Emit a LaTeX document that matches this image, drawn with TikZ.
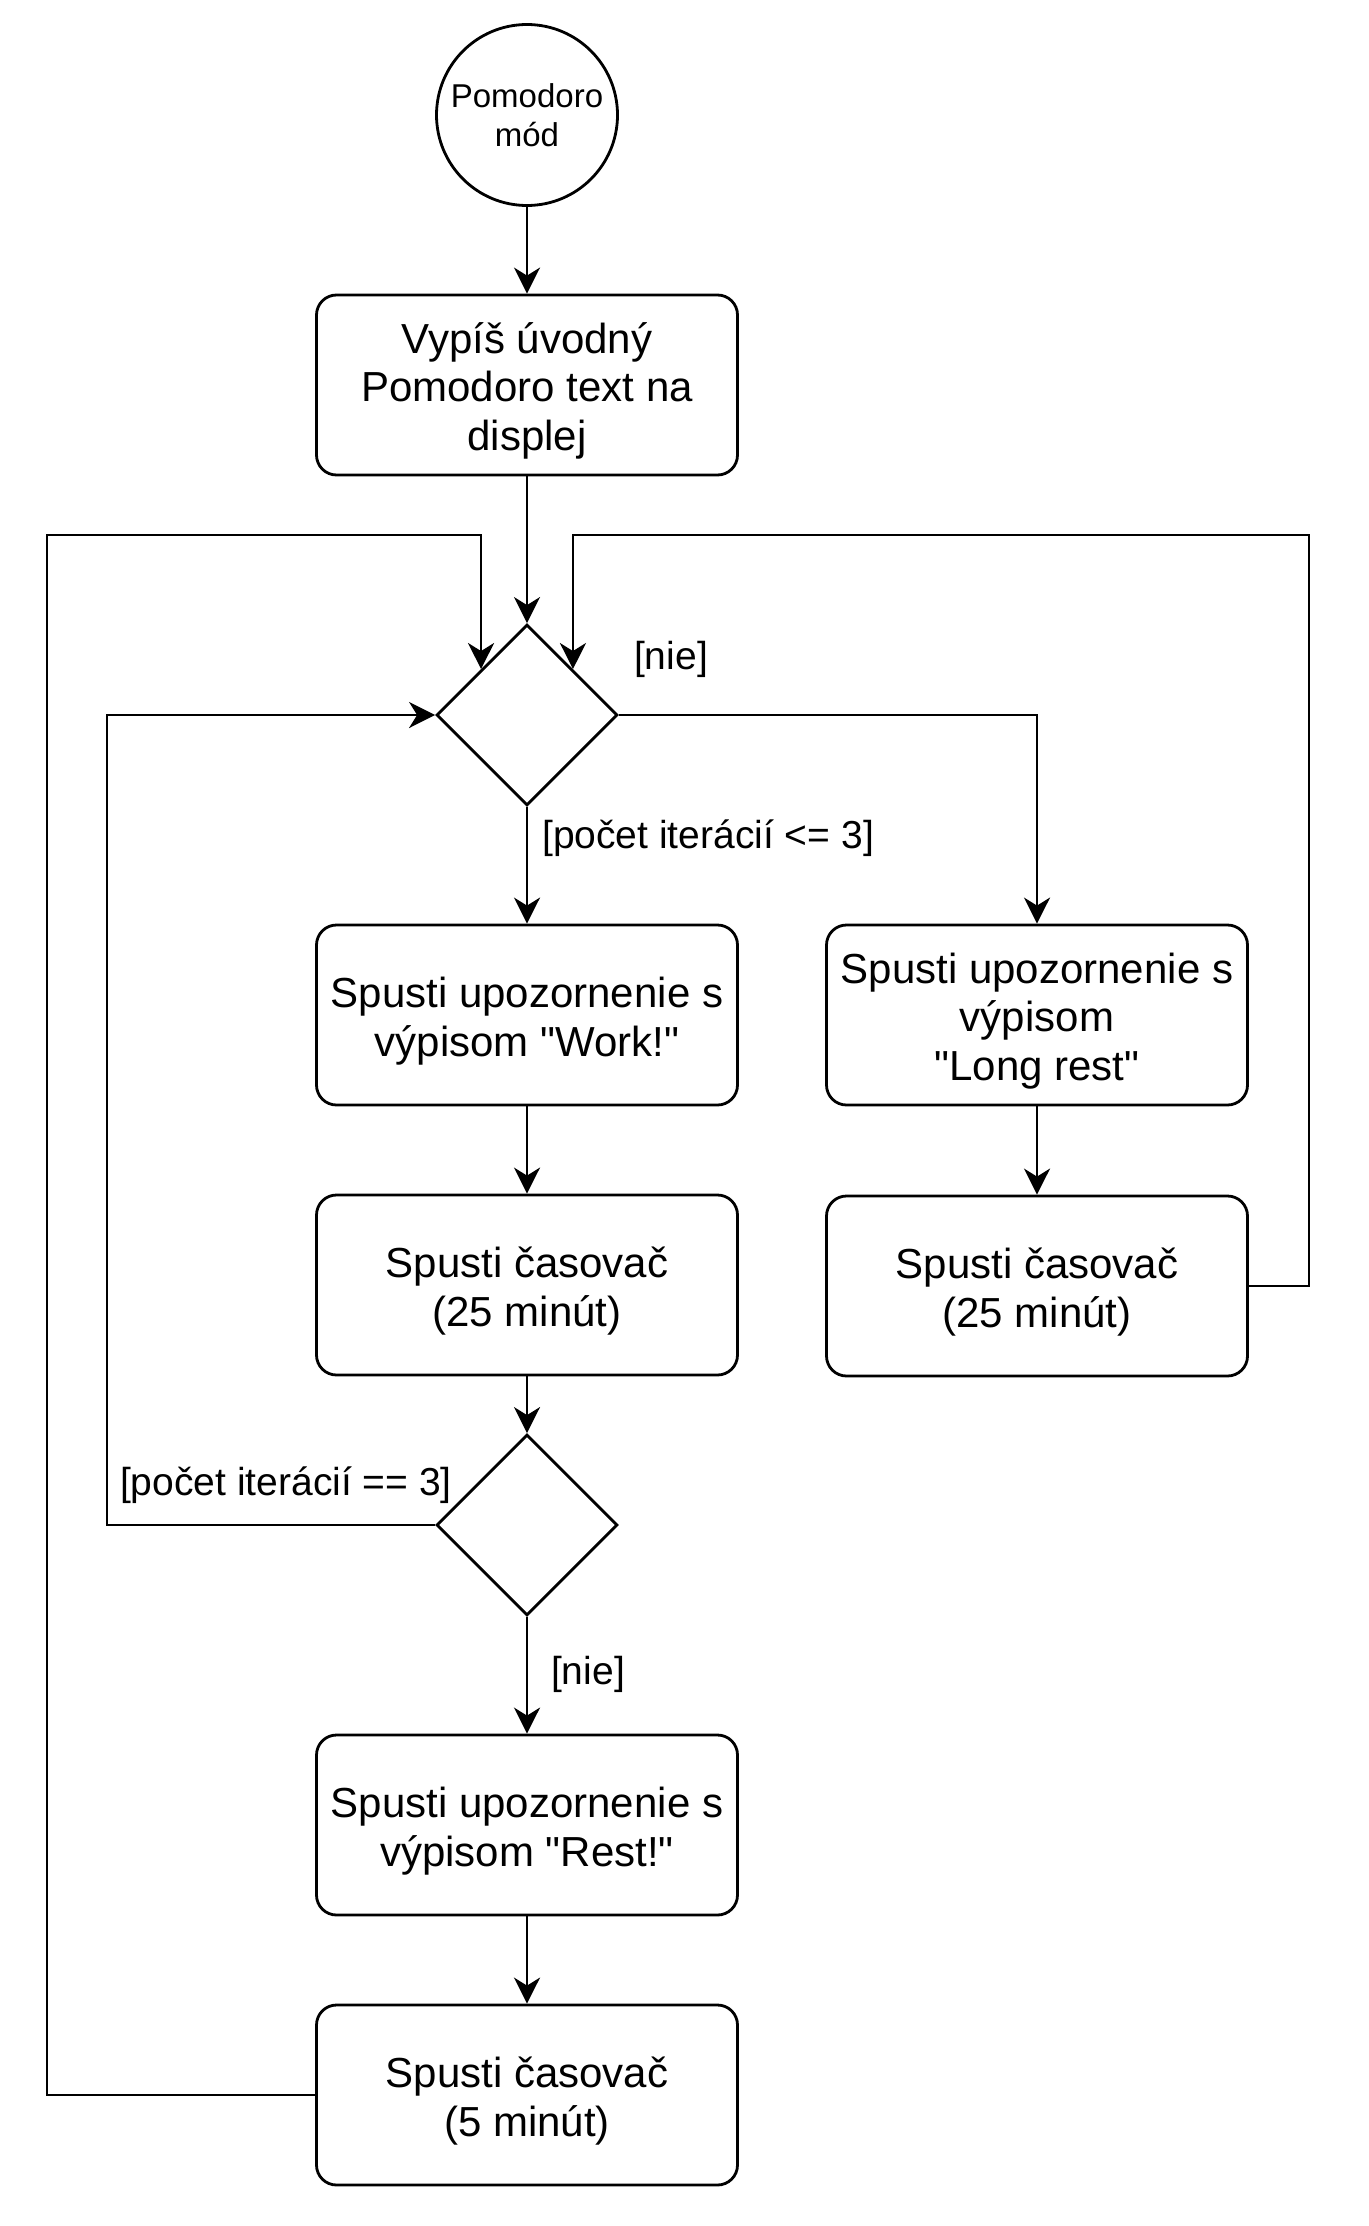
\documentclass[tikz,border=0pt]{standalone}
\usepackage{fontspec}
\setmainfont{Liberation Sans}[Ligatures=TeXOff]
\usetikzlibrary{arrows.meta,shapes.geometric}
\newcommand{\mytopstrut}{\rule{0pt}{42.5pt}}
\newcommand{\mybotstrut}{\rule[-6pt]{0pt}{6pt}}
\begin{document}
\begin{tikzpicture}[x=1pt,y=-1pt,
  lw/.style={line width=2.8pt},
  box/.style={draw, lw, rounded corners=20pt, minimum width=421pt, minimum height=180pt,
    align=center, inner sep=0pt, font=\fontsize{42pt}{48.5pt}\selectfont},
  dec/.style={draw, lw, diamond, minimum width=181pt, minimum height=181pt, inner sep=0pt},
  startnode/.style={draw, lw, circle, minimum size=181pt, inner sep=0pt, align=center,
    font=\fontsize{33pt}{39pt}\selectfont},
  lbl/.style={inner sep=0pt, font=\fontsize{39pt}{45pt}\selectfont},
  conn/.style={lw, -{Stealth[length=26pt,width=26pt,inset=8pt]}}]
\useasboundingbox (0,0) rectangle (1368,2226);
\fill[white] (0,0) rectangle (1368,2226);

\node[startnode] (start) at (527,115) {Pomodoro\\mód};
\node[box] (b1) at (527,385) {\mytopstrut Vypíš úvodný\\Pomodoro text na\\displej\mybotstrut};
\node[dec] (d1) at (527,715) {};
\node[box] (work) at (527,1015) {\mytopstrut Spusti upozornenie s\\výpisom "Work!"\mybotstrut};
\node[box] (t25) at (527,1285) {\mytopstrut Spusti časovač\\(25 minút)\mybotstrut};
\node[dec] (d2) at (527,1525) {};
\node[box] (rest) at (527,1825) {\mytopstrut Spusti upozornenie s\\výpisom "Rest!"\mybotstrut};
\node[box] (t5) at (527,2095) {\mytopstrut Spusti časovač\\(5 minút)\mybotstrut};
\node[box] (long) at (1037,1015) {\mytopstrut Spusti upozornenie s\\výpisom\\"Long rest"\mybotstrut};
\node[box] (t25r) at (1037,1286) {\mytopstrut Spusti časovač\\(25 minút)\mybotstrut};

\coordinate (cLL) at (47,535);
\coordinate (cRR) at (1309,535);
\coordinate (cL) at (107,1525);

\draw[conn] (start) -- (b1);
\draw[conn] (b1) -- (d1);
\draw[conn] (d1) -- (work);
\draw[conn] (work) -- (t25);
\draw[conn] (t25) -- (d2);
\draw[conn] (d2) -- (rest);
\draw[conn] (rest) -- (t5);
\draw[conn] (d1.east) -| (long.north);
\draw[conn] (long) -- (t25r);
\draw[conn] (d2.west) -- (cL) |- (d1.west);
\draw[conn] (t5.west) -| (cLL) -| (d1.north west);
\draw[conn] (t25r.east) -| (cRR) -| (d1.north east);

\node[lbl] (l1) at (671,659) {[nie]};
\node[lbl, anchor=west] (l2) at (542,838) {[počet iterácií <= 3]};
\node[lbl] (l3) at (286,1485) {[počet iterácií == 3]};
\node[lbl] (l4) at (588,1674) {[nie]};
\end{tikzpicture}
\end{document}
